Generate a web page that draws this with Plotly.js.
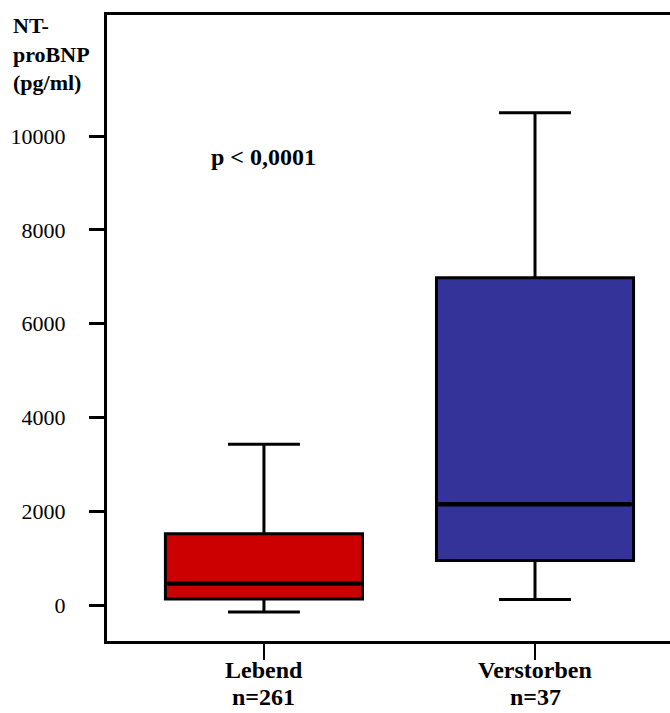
<!DOCTYPE html>
<html>
<head>
<meta charset="utf-8">
<script src="https://cdn.plot.ly/plotly-3.0.1.min.js"></script>
<style>
  html, body { margin: 0; padding: 0; background: #ffffff; }
  #chart { width: 670px; height: 713px; }
</style>
</head>
<body>
<div id="chart"></div>
<script>
// NT-proBNP by outcome group
const groups      = ['Lebend', 'Verstorben'];
const groupCounts = ['n=261', 'n=37'];
const lowerFence  = [-150, 120];
const q1Values    = [130, 950];
const medians     = [460, 2150];
const q3Values    = [1520, 6980];
const upperFence  = [3430, 10500];
const fillColors  = ['#cc0000', '#333399'];
const yTicks      = [0, 2000, 4000, 6000, 8000, 10000];
const pValueText  = 'p < 0,0001';

const FONT = 'Liberation Serif';
const BOX_WIDTH = 0.727;
const positions = groups.map((_, i) => i);

const traces = groups.map((g, i) => ({
  type: 'box',
  name: g,
  x: [positions[i]],
  q1: [q1Values[i]],
  median: [medians[i]],
  q3: [q3Values[i]],
  lowerfence: [lowerFence[i]],
  upperfence: [upperFence[i]],
  width: BOX_WIDTH,
  whiskerwidth: 0.365,
  fillcolor: fillColors[i],
  line: { color: '#000000', width: 3 },
  boxpoints: false,
  hoverinfo: 'skip',
  showlegend: false
}));

// heavier median bars across each box
groups.forEach((g, i) => {
  traces.push({
    type: 'scatter',
    mode: 'lines',
    x: [positions[i] - BOX_WIDTH / 2 + 0.008, positions[i] + BOX_WIDTH / 2 - 0.008],
    y: [medians[i], medians[i]],
    line: { color: '#000000', width: 4.5 },
    hoverinfo: 'skip',
    showlegend: false
  });
});

const annotations = [
  {
    text: '<b>NT-<br>proBNP<br>(pg/ml)</b>',
    xref: 'paper', yref: 'paper',
    x: -0.17, y: 1.006,
    xanchor: 'left', yanchor: 'top', align: 'left',
    showarrow: false,
    font: { family: FONT, size: 22, color: '#000000' }
  },
  {
    text: '<b>' + pValueText + '</b>',
    xref: 'x', yref: 'y',
    x: 0, y: 9550,
    xanchor: 'center', yanchor: 'middle',
    showarrow: false,
    font: { family: FONT, size: 24, color: '#000000' }
  }
];
// two-line category labels under the axis
groups.forEach((g, i) => {
  annotations.push({
    text: '<b>' + g + '</b>',
    xref: 'x', yref: 'paper',
    x: positions[i], y: -0.0463,
    xanchor: 'center', yanchor: 'middle',
    showarrow: false,
    font: { family: FONT, size: 24, color: '#000000' }
  });
  annotations.push({
    text: '<b>' + groupCounts[i] + '</b>',
    xref: 'x', yref: 'paper',
    x: positions[i], y: -0.0895,
    xanchor: 'center', yanchor: 'middle',
    showarrow: false,
    font: { family: FONT, size: 24, color: '#000000' }
  });
});

const layout = {
  width: 670,
  height: 713,
  margin: { l: 107, r: 0, t: 15, b: 72, pad: 0 },
  paper_bgcolor: '#ffffff',
  plot_bgcolor: '#ffffff',
  showlegend: false,
  font: { family: FONT, color: '#000000' },
  xaxis: {
    range: [-0.579, 1.498],
    tickmode: 'array',
    tickvals: positions,
    showticklabels: false,
    ticks: 'outside',
    ticklen: 16,
    tickwidth: 2.5,
    tickcolor: '#000000',
    showline: true,
    linecolor: '#000000',
    linewidth: 3,
    mirror: true,
    showgrid: false,
    zeroline: false,
    fixedrange: true
  },
  yaxis: {
    range: [-766, 12585],
    tickmode: 'array',
    tickvals: yTicks,
    ticktext: yTicks.map(String),
    tickfont: { family: FONT, size: 22, color: '#000000' },
    ticks: 'outside',
    ticklen: 15,
    tickwidth: 3,
    tickcolor: '#000000',
    ticklabelstandoff: 19,
    showline: true,
    linecolor: '#000000',
    linewidth: 3,
    showgrid: false,
    zeroline: false,
    fixedrange: true
  },
  annotations: annotations
};

Plotly.newPlot('chart', traces, layout, { staticPlot: true, displayModeBar: false });
</script>
</body>
</html>
